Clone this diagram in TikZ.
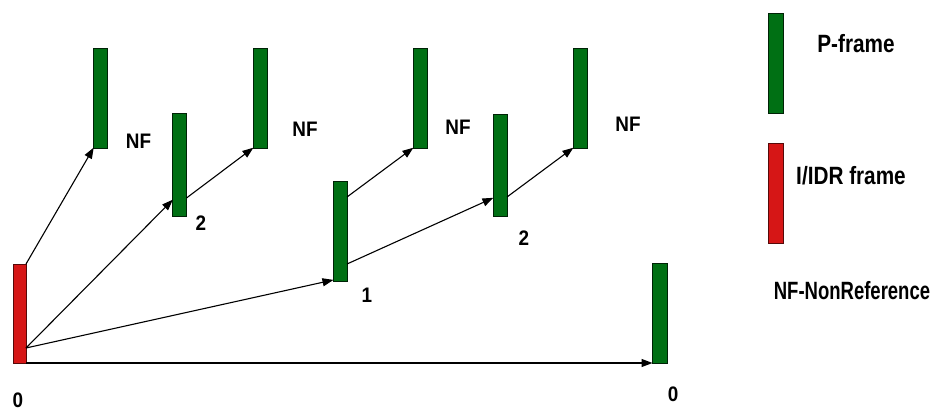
\documentclass[tikz,border=0pt]{standalone}
\usepackage{fontspec}
\newfontfamily\lab[FakeStretch=0.9]{Liberation Sans}
\newfontfamily\legA[FakeStretch=0.83]{Liberation Sans}
\newfontfamily\legB[FakeStretch=0.74]{Liberation Sans}
\usetikzlibrary{arrows.meta}
\definecolor{pgreen}{RGB}{0,112,20}
\definecolor{ired}{RGB}{214,22,22}
\tikzset{
  pbar/.style={draw=black!70!pgreen, line width=0.6pt, fill=pgreen, minimum width=14pt, minimum height=100pt, inner sep=0pt, outer sep=0pt},
  ibar/.style={draw=black!60!ired, line width=0.6pt, fill=ired, minimum width=13pt, minimum height=99pt, inner sep=0pt, outer sep=0pt},
  ref/.style={draw=black, line width=1.1pt, -{Triangle[length=11pt,width=8pt]}, shorten >=-0.5pt},
  lbl/.style={font=\lab\bfseries\fontsize{21}{25}\selectfont, inner sep=0pt},
  leg/.style={font=\legA\bfseries\fontsize{25}{29}\selectfont, inner sep=0pt},
  legn/.style={font=\legB\bfseries\fontsize{25}{29}\selectfont, inner sep=0pt}
}
\begin{document}
\begin{tikzpicture}[x=1pt,y=-1pt]
\useasboundingbox (0,0) rectangle (935,412);
% frames
\node[ibar] (I) at (19.5,313.5) {};
\node[pbar] (A) at (100.5,98) {};
\node[pbar, minimum height=103pt] (B) at (179.5,164.5) {};
\node[pbar] (C) at (260,98) {};
\node[pbar] (D) at (340,231) {};
\node[pbar] (E) at (420,98) {};
\node[pbar, minimum height=102pt] (F) at (500,165) {};
\node[pbar] (G) at (580,98) {};
\node[pbar, minimum width=15pt] (Z) at (659.5,313) {};
% legend
\node[pbar, minimum width=15pt] (LP) at (775.5,63) {};
\node[ibar, minimum width=15pt, minimum height=100pt] (LI) at (775.5,193) {};
\node[leg] (tP) at (856,44) {P-frame};
\node[leg] (tI) at (851,176) {I/IDR frame};
\node[legn] (tN) at (852,291) {NF-NonReference};
% labels
\node[lbl] (nf1) at (138.5,141) {NF};
\node[lbl] (nf2) at (305,129) {NF};
\node[lbl] (nf3) at (458,127) {NF};
\node[lbl] (nf4) at (628,124) {NF};
\node[lbl] (l2a) at (201,223) {2};
\node[lbl] (l1) at (367,295) {1};
\node[lbl] (l2b) at (524,238) {2};
\node[lbl] (l0a) at (18,400) {0};
\node[lbl] (l0b) at (673,394) {0};
% references
\draw[ref] (I.north east) -- (A.south west);
\draw[ref] ([yshift=15pt]I.south east) -- ([yshift=16pt]B.south west);
\draw[ref] ([yshift=15pt]I.south east) -- ([yshift=1pt]D.south west);
\draw[ref] (I.south east) -- (Z.south west);
\draw[ref] ([yshift=18pt]B.south east) -- (C.south west);
\draw[ref] ([yshift=-16pt]D.north east) -- (E.south west);
\draw[ref] ([yshift=17pt]D.south east) -- ([yshift=18pt]F.south west);
\draw[ref] ([yshift=19pt]F.south east) -- (G.south west);
\end{tikzpicture}
\end{document}
